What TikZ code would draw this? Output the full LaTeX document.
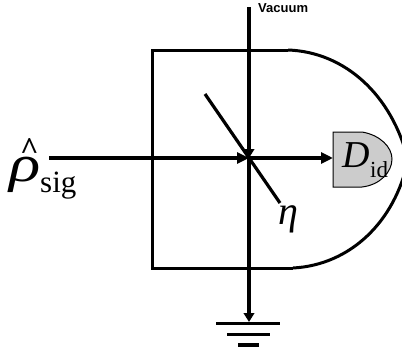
\documentclass[tikz,border=0pt]{standalone}
\usepackage{fontspec}
\setmainfont{Liberation Serif}
\newfontfamily\labelsans{Liberation Sans}
\usetikzlibrary{arrows.meta}
\tikzset{
  x=1pt,y=-1pt,
  beam/.style={line width=3.6pt,black,-{Triangle[length=12pt,width=11pt]}},
  vbeam/.style={line width=3.6pt,black,-{Triangle[length=9pt,width=10.5pt]}},
  wall/.style={line width=3pt,black},
  txt/.style={inner sep=0pt,black},
  groundbar/.style={black,line cap=butt}
}
\begin{document}
\begin{tikzpicture}
\useasboundingbox (0,0) rectangle (402,356);
\clip (0,0) rectangle (402,356);
\fill[white] (0,0) rectangle (402,356);
\coordinate (top) at (249,7);
\coordinate (mid) at (249,158);
\coordinate (gnd) at (249,322);
\coordinate (sig) at (49,158);
\coordinate (bsa) at (205,94);
\coordinate (bsb) at (280,203);
\coordinate (tl) at (152,50);
\coordinate (bl) at (152,268);
\coordinate (tr) at (288,50);
\coordinate (br) at (293,268);
% detector
\draw[line width=1pt,fill=black!20] (333,132) -- (362,132) .. controls (380,135) and (392,147) .. (392,159) .. controls (392,172) and (380,185) .. (362,187) -- (333,187) -- cycle;
\coordinate (det) at (333,158);
% housing
\draw[wall] (tr) -- (tl) -- (bl) -- (br);
\draw[wall] (tr) .. controls (345,52) and (392,95) .. (408,160) .. controls (395,222) and (350,265) .. (br);
% beams
\draw[beam] (sig) -- (mid);
\draw[beam] (mid) -- (det);
\draw[vbeam] (top) -- (mid);
\draw[vbeam] (mid) -- (gnd);
\draw[line width=3.2pt] (bsa) -- (bsb);
% ground
\coordinate (g1a) at (216,323); \coordinate (g1b) at (280,323);
\coordinate (g2a) at (227,334); \coordinate (g2b) at (270,334);
\coordinate (g3a) at (238,345); \coordinate (g3b) at (259,345);
\draw[groundbar,line width=3pt] (g1a) -- (g1b);
\draw[groundbar,line width=3pt] (g2a) -- (g2b);
\draw[groundbar,line width=4.5pt] (g3a) -- (g3b);
% labels
\node[txt,anchor=west] (vac) at (258,8) {\labelsans\bfseries\fontsize{13}{13}\selectfont Vacuum};
\node[txt] (rholbl) at (25,175) {\scalebox{1.25}[1]{\fontsize{52}{52}\selectfont\itshape ρ}};
\node[txt] (hatlbl) at (29.5,149) {\fontsize{32}{32}\selectfont\bfseries\^{}};
\node[txt,anchor=base west] (siglbl) at (40,192) {\fontsize{31}{31}\selectfont sig};
\node[txt,anchor=base west] (dlbl) at (342,167) {\fontsize{38}{38}\selectfont\itshape D};
\node[txt,anchor=base west] (idlbl) at (370,177) {\fontsize{23}{23}\selectfont id};
\node[txt,anchor=base west] (etalbl) at (278,224) {\fontsize{40}{40}\selectfont\itshape η};
\end{tikzpicture}
\end{document}
